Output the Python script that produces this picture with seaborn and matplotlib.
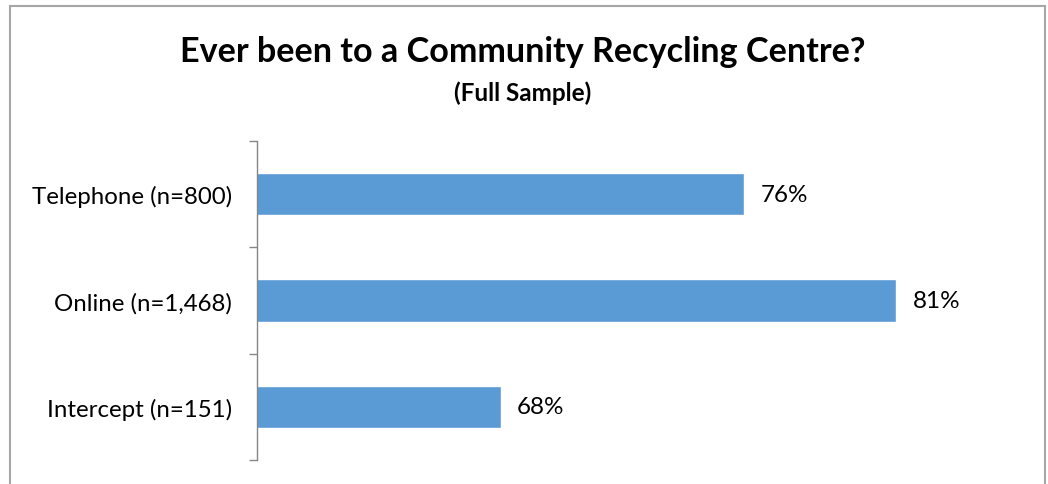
import matplotlib
matplotlib.use("Agg")
import matplotlib.pyplot as plt
import seaborn as sns
import pandas as pd
from matplotlib.patches import Rectangle

categories = ["Telephone (n=800)", "Online (n=1,468)", "Intercept (n=151)"]
values = [76, 81, 68]
title = "Ever been to a Community Recycling Centre?"
subtitle = "(Full Sample)"

sns.set_theme(style="white")
plt.rcParams['font.family'] = ['Lato', 'DejaVu Sans']
plt.rcParams['text.color'] = '#000000'

df = pd.DataFrame({"cat": categories, "val": values})

fig = plt.figure(figsize=(10.48, 4.85), dpi=100)
ax = fig.add_axes([257/1048, 1-461/485, (1018-257)/1048, (461-142)/485])

sns.barplot(data=df, x="val", y="cat", orient="h", color="#5b9bd5",
            saturation=1, width=0.4, ax=ax)
ax.set_xlim(60, 85)
ax.set_ylim(2.5, -0.5)
ax.set_xlabel("")
ax.set_ylabel("")
ax.xaxis.set_visible(False)
for s in ["top", "right", "bottom"]:
    ax.spines[s].set_visible(False)
ax.spines["left"].set_color("#868686")
ax.spines["left"].set_linewidth(1)

ax.tick_params(axis="y", which="major", length=0, pad=18, labelsize=17.3, labelcolor="#000000")
ax.set_yticks([-0.5, 0.5, 1.5, 2.5], minor=True)
ax.tick_params(axis="y", which="minor", left=True, length=6, color="#868686", width=1, direction="out")

for c in ax.containers:
    ax.bar_label(c, labels=[f"{v}%" for v in values], padding=12, fontsize=17.5, color="#000000")

fig.text(523/1048, 1-52/485, title, ha="center", va="center", fontsize=24.6, fontweight="bold", color="#000000")
fig.text(523/1048, 1-93/485, subtitle, ha="center", va="center", fontsize=17.5, fontweight="bold", color="#000000")

fig.patches.append(Rectangle((10/1048, -0.1), (1045-10)/1048, 1.1 - 7/485,
                             transform=fig.transFigure, fill=False,
                             edgecolor="#a6a6a6", linewidth=1.5))

fig.savefig("out.png", dpi=100)
